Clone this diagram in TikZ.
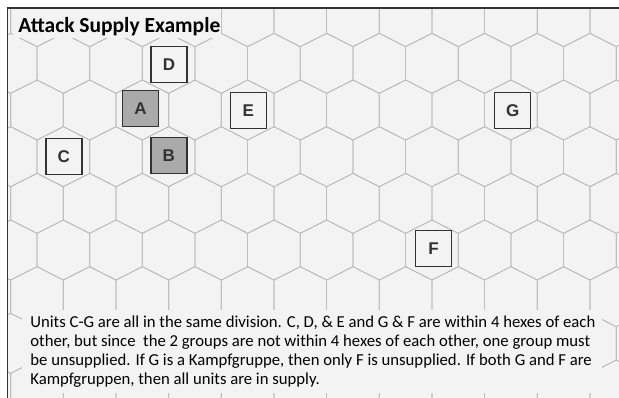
\documentclass[tikz,border=0pt]{standalone}
\usepackage{fontspec}
\setmainfont{Carlito}
\newfontfamily\unitfont{Liberation Sans}
\definecolor{hexgray}{RGB}{185,185,185}
\definecolor{paper}{RGB}{243,243,243}
\definecolor{hqgray}{RGB}{170,170,170}
\definecolor{inkgray}{RGB}{50,50,50}

\begin{document}
\begin{tikzpicture}[x=1pt,y=-1pt,line width=0.8pt,
  unit/.style={draw=inkgray,line width=1.4pt,fill=paper,minimum size=36pt,
    inner sep=0pt,text=inkgray,font=\unitfont\bfseries\fontsize{17}{17}\selectfont},
  hqunit/.style={unit,fill=hqgray}]
\def\hw{26.33} % half width of a hex
\def\he{16.67} % half of the vertical side
\def\ap{30}    % centre to top corner
\def\dy{46.67} % row step
\useasboundingbox (0,0) rectangle (619,398);
\fill[paper] (7.5,8) rectangle (619,398);
% ================= hex grid =================
\begin{scope}
\clip (7.5,8) rectangle (619,398);
\foreach \r in {0,...,8}{
  \pgfmathsetmacro\y{16.67+\r*\dy}
  \pgfmathsetmacro\xo{mod(\r,2)==0 ? 37 : 63.33}
  \foreach \c in {-1,...,11}{
    \pgfmathsetmacro\x{\xo+\c*2*\hw}
    \draw[hexgray,line width=0.7pt] (\x,\y-\ap) -- (\x+\hw,\y-\he) -- (\x+\hw,\y+\he)
      -- (\x,\y+\ap) -- (\x-\hw,\y+\he) -- (\x-\hw,\y-\he) -- cycle;
  }
}
\end{scope}
% frame
\draw[black!80,line width=1.3pt] (7.5,398) -- (7.5,8) -- (619,8);
% ================= title =================
\fill[paper] (13,9) rectangle (221,38);
\node[anchor=base west,inner sep=0pt,font=\bfseries\fontsize{21.5}{22}\selectfont]
  (title) at (18,32.3) {Attack Supply Example};
% ================= units =================
\node[unit]   (unitD) at (169.0,64.5)  {D};
\node[hqunit] (unitA) at (140.5,108.7) {A};
\node[unit]   (unitE) at (248.3,110.5) {E};
\node[unit]   (unitG) at (512.7,110.3) {G};
\node[unit]   (unitC) at (63.8,156.3)  {C};
\node[hqunit] (unitB) at (168.8,155.7) {B};
\node[unit]   (unitF) at (433.5,248.7) {F};
% ================= note =================
% base of a multi-line node sits on its last line
\fill[paper] (22,310) rectangle (602,393);
\node[anchor=base west,inner sep=0pt,align=left,
  font=\fontsize{16.7}{19}\selectfont] (note) at (30,384.3)
  {Units C-G are all in the same division. C, D, \& E and G \& F are within 4 hexes of each\\
   other, but since\ \ the 2 groups are not within 4 hexes of each other, one group must\\
   be unsupplied. If G is a Kampfgruppe, then only F is unsupplied. If both G and F are\\
   Kampfgruppen, then all units are in supply.};
\end{tikzpicture}
\end{document}
